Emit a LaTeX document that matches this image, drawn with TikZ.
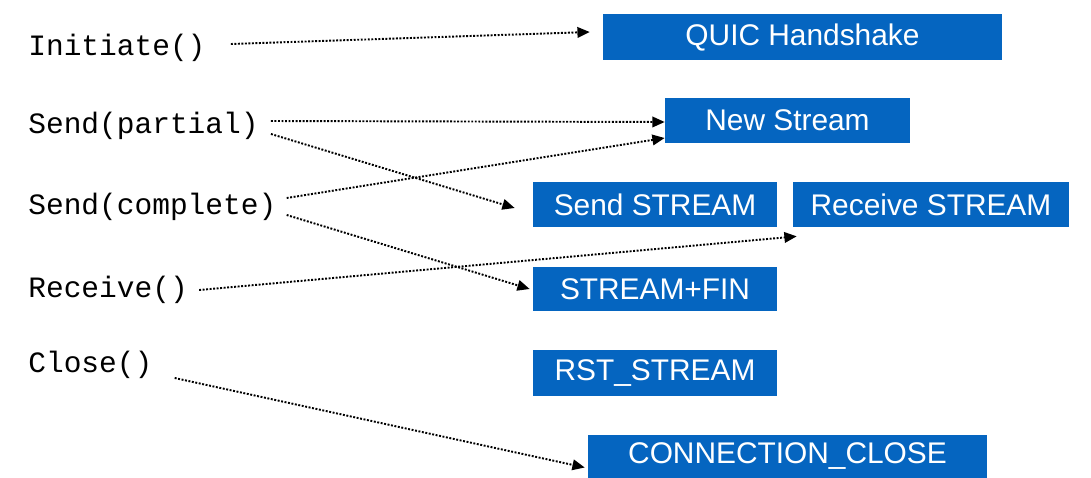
\documentclass[tikz,border=0pt]{standalone}
\usepackage{fontspec}
\setmainfont{Liberation Sans}
\newfontfamily\callfont{Liberation Mono}
\usetikzlibrary{arrows.meta}
\definecolor{framebl}{RGB}{5,101,192}
\begin{document}
\begin{tikzpicture}[x=0.02cm, y=-0.02cm,
    call/.style={anchor=west, inner sep=0pt, font=\callfont\fontsize{16.8}{18}\selectfont},
    frame/.style={rectangle, fill=framebl, text=white, inner sep=0pt, minimum height=0.9cm, font=\fontsize{17}{20}\selectfont},
    arrow/.style={-{Triangle[length=7pt,width=6pt]}, dash pattern=on 1.1pt off 0.9pt, line width=1.1pt, black},
]
\useasboundingbox (0,0) rectangle (1091,477);
\node[call] (init) at (28,48) {Initiate()};
\node[call] (sp) at (28,126) {Send(partial)};
\node[call] (sc) at (28,207) {Send(complete)};
\node[call] (rc) at (28,290) {Receive()};
\node[call] (cl) at (28,365) {Close()};
\node[frame, minimum width=7.98cm, minimum height=0.92cm] (quic) at (802.5,37) {QUIC Handshake};
\node[frame, minimum width=4.9cm] (ns) at (787.5,120.5) {New Stream};
\node[frame, minimum width=4.88cm] (ss) at (655,204.5) {Send STREAM};
\node[frame, minimum width=5.52cm] (rs) at (931,204.5) {Receive STREAM};
\node[frame, minimum width=4.88cm, minimum height=0.88cm] (sf) at (655,289) {STREAM+FIN};
\node[frame, minimum width=4.88cm, minimum height=0.92cm] (rst) at (655,373) {RST\_STREAM};
\node[frame, minimum width=7.98cm, minimum height=0.86cm] (cc) at (787.5,456.5) {CONNECTION\_CLOSE};
\draw[arrow] ([xshift=0.5cm,yshift=0.08cm]init.east) -- ([xshift=-0.26cm,yshift=0.1cm]quic.west);
\draw[arrow] ([xshift=0.24cm,yshift=0.1cm]sp.east) -- ([yshift=-0.03cm]ns.west);
\draw[arrow] ([xshift=0.24cm,yshift=-0.16cm]sp.east) -- ([xshift=-0.36cm,yshift=-0.07cm]ss.west);
\draw[arrow] ([xshift=0.2cm,yshift=0.18cm]sc.east) -- ([yshift=-0.35cm]ns.west);
\draw[arrow] ([xshift=0.2cm,yshift=-0.16cm]sc.east) -- ([xshift=-0.06cm]sf.west);
\draw[arrow] ([xshift=0.22cm]rc.east) -- ([xshift=0.08cm,yshift=-0.18cm]rs.south west);
\draw[arrow] ([xshift=0.44cm,yshift=-0.26cm]cl.east) -- ([xshift=-0.06cm,yshift=-0.22cm]cc.west);
\end{tikzpicture}
\end{document}
